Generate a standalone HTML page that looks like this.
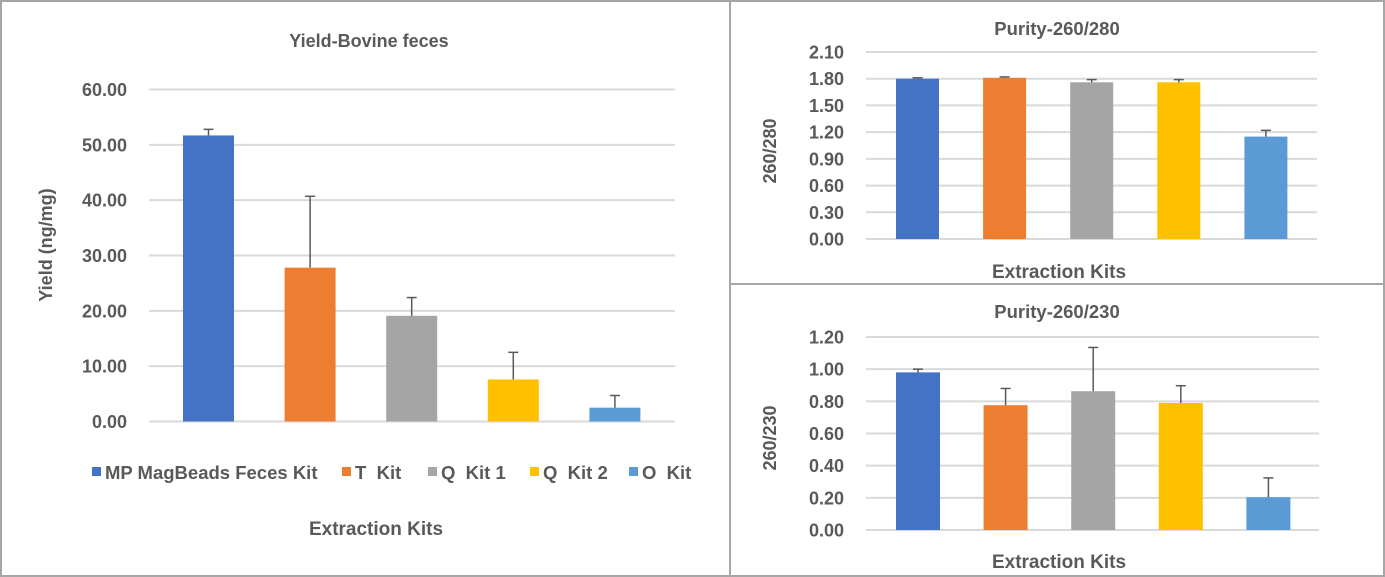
<!DOCTYPE html>
<html><head><meta charset="utf-8"><style>
html,body{margin:0;padding:0;background:#fff}
svg{display:block}
text{font-family:"Liberation Sans",Arial,sans-serif;font-weight:bold;fill:#595959;white-space:pre}
</style></head><body>
<svg id="svg" width="1385" height="577" viewBox="0 0 1385 577">
<rect x="1" y="1" width="1383" height="575" fill="#fff" stroke="#a6a6a6" stroke-width="2"/>
<line x1="730" y1="0" x2="730" y2="577" stroke="#a6a6a6" stroke-width="2"/>
<line x1="730" y1="284" x2="1385" y2="284" stroke="#a6a6a6" stroke-width="2"/>
</svg>
<script>
const kits = ["MP MagBeads Feces Kit", "T  Kit", "Q  Kit 1", "Q  Kit 2", "O  Kit"];
const colors = ["#4472c4", "#ed7d31", "#a5a5a5", "#ffc000", "#5b9bd5"];
const yieldValues = [51.7, 27.8, 19.1, 7.6, 2.5];
const yieldErrors = [1.1, 12.9, 3.3, 4.9, 2.2];
const yieldTicks = ["0.00", "10.00", "20.00", "30.00", "40.00", "50.00", "60.00"];
const p280Values = [1.80, 1.81, 1.76, 1.76, 1.15];
const p280Errors = [0.01, 0.01, 0.03, 0.03, 0.07];
const p280Ticks = ["0.00", "0.30", "0.60", "0.90", "1.20", "1.50", "1.80", "2.10"];
const p230Values = [0.98, 0.776, 0.863, 0.79, 0.204];
const p230Errors = [0.02, 0.104, 0.272, 0.107, 0.12];
const p230Ticks = ["0.00", "0.20", "0.40", "0.60", "0.80", "1.00", "1.20"];

const svg = document.getElementById('svg');
const NS = 'http://www.w3.org/2000/svg';
function mk(tag, attrs, parent) {
  const e = document.createElementNS(NS, tag);
  for (const k in attrs) e.setAttribute(k, attrs[k]);
  (parent || svg).appendChild(e);
  return e;
}
function chart(o) {
  const g = mk('g', {});
  
  
  const max = parseFloat(o.ticks[o.ticks.length - 1]);
  const y = v => o.y0 - (v / max) * (o.y0 - o.y1);
  o.ticks.forEach(t => {
    const yy = y(parseFloat(t));
    const l = mk('line', {x1: o.x0, x2: o.x1, y1: yy, y2: yy, stroke: '#d9d9d9', 'stroke-width': 2}, g);
    
    
    const tx = mk('text', {x: o.labelX, y: yy + 6.5, 'text-anchor': 'end', 'font-size': 18}, g);
    tx.textContent = t;
    
    
  });
  o.values.forEach((v, i) => {
    const cx = o.c0 + o.step * i;
    const r = mk('rect', {x: cx - o.bw / 2, y: y(v), width: o.bw, height: o.y0 - y(v), fill: colors[i]}, g);
    
    
    const ey = y(v + o.errors[i]);
    const e1 = mk('line', {x1: cx, x2: cx, y1: y(v), y2: ey, stroke: '#595959', 'stroke-width': 1.5}, g);
    
    
    const e2 = mk('line', {x1: cx - 5, x2: cx + 5, y1: ey, y2: ey, stroke: '#595959', 'stroke-width': 1.5}, g);
    
    
  });
  const t = mk('text', {x: o.titleX, y: o.titleY, 'text-anchor': 'middle', 'font-size': o.titleSize}, g);
  t.textContent = o.title;
  
  
  const xt = mk('text', {x: o.xtX, y: o.xtY, 'text-anchor': 'middle', 'font-size': 19}, g);
  xt.textContent = 'Extraction Kits';
  
  
  const yt = mk('text', {x: 0, y: 0, 'text-anchor': 'middle', 'font-size': 18, transform: `translate(${o.ytX},${o.ytY}) rotate(-90)`}, g);
  yt.textContent = o.ytitle;
  
  
}
chart({name: 'yield-chart', values: yieldValues, errors: yieldErrors, ticks: yieldTicks, x0: 149, x1: 675, y0: 421.5, y1: 89.5, c0: 208.5, step: 101.6, bw: 51, labelX: 127, title: 'Yield-Bovine feces', titleSize: 18, titleX: 369, titleY: 47, xtX: 376, xtY: 535, ytitle: 'Yield (ng/mg)', ytX: 52, ytY: 245});
chart({name: 'purity-280-chart', values: p280Values, errors: p280Errors, ticks: p280Ticks, x0: 866, x1: 1317, y0: 239, y1: 52, c0: 917.5, step: 87.1, bw: 43, labelX: 844, title: 'Purity-260/280', titleSize: 18.5, titleX: 1057, titleY: 35, xtX: 1059, xtY: 278, ytitle: '260/280', ytX: 776, ytY: 151});
chart({name: 'purity-230-chart', values: p230Values, errors: p230Errors, ticks: p230Ticks, x0: 866, x1: 1319, y0: 530, y1: 337, c0: 918, step: 87.6, bw: 44, labelX: 844, title: 'Purity-260/230', titleSize: 18.5, titleX: 1057, titleY: 318, xtX: 1059, xtY: 568, ytitle: '260/230', ytX: 776, ytY: 438});

// legend
const lg = mk('g', {});


const lx = [92, 342, 428, 530, 629];
kits.forEach((k, i) => {
  const r = mk('rect', {x: lx[i], y: 467, width: 9, height: 9, fill: colors[i]}, lg);
  
  
  const t = mk('text', {x: lx[i] + 13, y: 479, 'font-size': 18.5}, lg);
  t.textContent = k;
  
  
});
</script>
</body></html>
